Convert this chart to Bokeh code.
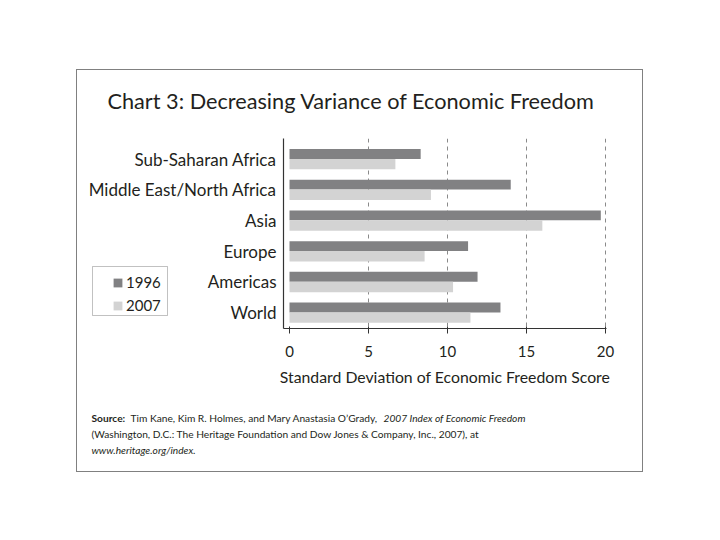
from bokeh.plotting import figure
from bokeh.layouts import column, row
from bokeh.models import Range1d, Legend, LegendItem, FixedTicker, ColumnDataSource, BoxAnnotation
from bokeh.core.properties import value
from bokeh.transform import dodge
from bokeh.embed import file_html
from bokeh.resources import INLINE

# ---------------- data ----------------
categories = ["Sub-Saharan Africa", "Middle East/North Africa", "Asia", "Europe", "Americas", "World"]
values_1996 = [8.3, 14.0, 19.7, 11.3, 11.9, 13.35]
values_2007 = [6.7, 8.95, 16.0, 8.55, 10.35, 11.45]
series_names = ["1996", "2007"]
x_ticks = [0, 5, 10, 15, 20]
grid_ticks = [5, 10, 15, 20]

title_text = "Chart 3: Decreasing Variance of Economic Freedom"
x_label = "Standard Deviation of Economic Freedom Score"
source_bold = "Source:"
source_1 = "Tim Kane, Kim R. Holmes, and Mary Anastasia O\u2019Grady,"
source_1_italic = "2007 Index of Economic Freedom"
source_2 = "(Washington, D.C.: The Heritage Foundation and Dow Jones & Company, Inc., 2007), at"
source_3_italic = "www.heritage.org/index."

FONT = "Lato"
TXT = "#231f20"
DARK = "#818183"
LIGHT = "#d3d3d3"

W = 565          # width of the boxed chart
LEFT_W = 200     # label column width
MAIN_H = 257     # height of chart row
FRAME_H = 190    # plot frame height
BOTTOM_B = MAIN_H - FRAME_H


def text_fig(h):
    f = figure(width=W, height=h, output_backend="svg", toolbar_location=None,
               x_range=Range1d(0, W), y_range=Range1d(h, 0), frame_align=False,
               min_border_left=0, min_border_right=0, min_border_top=0, min_border_bottom=0)
    f.axis.visible = False
    f.grid.visible = False
    f.outline_line_color = None
    f.background_fill_color = "white"
    f.border_fill_color = "white"
    return f


def put(f, x, y, t, size, style="normal"):
    f.text(x=[x], y=[y], text=[t], text_font=value(FONT), text_font_size=size,
           text_color=TXT, text_font_style=style, text_baseline="middle", text_align="left")


# ---------------- title ----------------
top = text_fig(68)
put(top, 30, 30, title_text, "21.7px")

# ---------------- chart row ----------------
pos = list(range(len(categories)))
src = ColumnDataSource(dict(pos=pos, name=categories, v1996=values_1996, v2007=values_2007))
y_range = Range1d(5.52, -0.67)

# left part: category names and legend
left = figure(width=LEFT_W, height=MAIN_H, output_backend="svg", toolbar_location=None,
              x_range=Range1d(0, LEFT_W), y_range=y_range, frame_align=False,
              min_border_left=0, min_border_right=0, min_border_top=0,
              min_border_bottom=BOTTOM_B)
left.extra_y_ranges = {"px": Range1d(FRAME_H, 0)}
left.axis.visible = False
left.grid.visible = False
left.outline_line_color = None
left.background_fill_color = "white"
left.border_fill_color = "white"

left.text(x=LEFT_W - 1, y="pos", text="name", source=src, text_font=value(FONT),
          text_font_size="17px", text_color=TXT, text_align="right", text_baseline="middle")

# zero-width proxies carrying the legend swatches
k1 = left.hbar(y="pos", left=0, right=0, height=0.3, source=src, fill_color=DARK, line_color=None)
k2 = left.hbar(y="pos", left=0, right=0, height=0.3, source=src, fill_color=LIGHT, line_color=None)
legend = Legend(items=[LegendItem(label=series_names[0], renderers=[k1]),
                       LegendItem(label=series_names[1], renderers=[k2])],
                location=(35, 14), border_line_alpha=0, background_fill_alpha=0,
                padding=0, margin=0, spacing=5,
                glyph_width=11, glyph_height=11, label_height=15, label_standoff=3,
                label_text_font=FONT, label_text_font_size="15px", label_text_color=TXT)
left.add_layout(legend)
left.add_layout(BoxAnnotation(left=15, right=90, top=128, bottom=177, y_range_name="px",
                              fill_alpha=0, line_color="#333333", line_width=1))

# main plot
p = figure(width=W - LEFT_W, height=MAIN_H, output_backend="svg", toolbar_location=None,
           x_range=Range1d(-0.38, 20.06), y_range=y_range, frame_align=False,
           min_border_left=6, min_border_right=36,
           min_border_top=0, min_border_bottom=BOTTOM_B)
p.outline_line_color = None
p.background_fill_color = "white"
p.border_fill_color = "white"

p.hbar(y=dodge("pos", -0.165), left=0, right="v1996", height=0.32, source=src,
       fill_color=DARK, line_color=None)
p.hbar(y=dodge("pos", 0.165), left=0, right="v2007", height=0.34, source=src,
       fill_color=LIGHT, line_color=None)

xa = p.xaxis[0]
xa.ticker = FixedTicker(ticks=x_ticks)
xa.axis_line_color = "#333333"
xa.axis_line_width = 1.2
xa.major_tick_in = 2
xa.major_tick_out = 5
xa.major_tick_line_color = "#333333"
xa.minor_tick_line_color = None
xa.major_label_text_font = FONT
xa.major_label_text_font_size = "15px"
xa.major_label_text_color = TXT
xa.major_label_standoff = 12
xa.axis_label = x_label
xa.axis_label_text_font = FONT
xa.axis_label_text_font_size = "15.8px"
xa.axis_label_text_font_style = "normal"
xa.axis_label_text_color = TXT
xa.axis_label_standoff = 7

ya = p.yaxis[0]
ya.ticker = FixedTicker(ticks=[])
ya.axis_line_color = "#333333"
ya.axis_line_width = 1.2
ya.major_tick_line_color = None
ya.minor_tick_line_color = None
ya.major_tick_in = 0
ya.major_tick_out = 0
ya.major_label_standoff = 0

p.ygrid.visible = False
p.xgrid.ticker = FixedTicker(ticks=grid_ticks)
p.xgrid.grid_line_color = "#8a8a8a"
p.xgrid.grid_line_dash = "4 4"
p.xgrid.grid_line_width = 1

# ---------------- source note ----------------
FS = "10.2px"
bot = text_fig(76)
put(bot, 14, 22, source_bold, FS, "bold")
put(bot, 53, 22, source_1, FS)
put(bot, 306, 22, source_1_italic, FS, "italic")
put(bot, 14, 38, source_2, FS)
put(bot, 14, 54, source_3_italic, FS, "italic")

root = column(top, row(left, p, spacing=0), bot, spacing=0, width=W, height=68 + MAIN_H + 76,
              margin=(70, 0, 0, 77),
              styles={"outline": "1.5px solid #808080", "background-color": "white"})

open("out.html", "w").write(file_html(root, INLINE))
